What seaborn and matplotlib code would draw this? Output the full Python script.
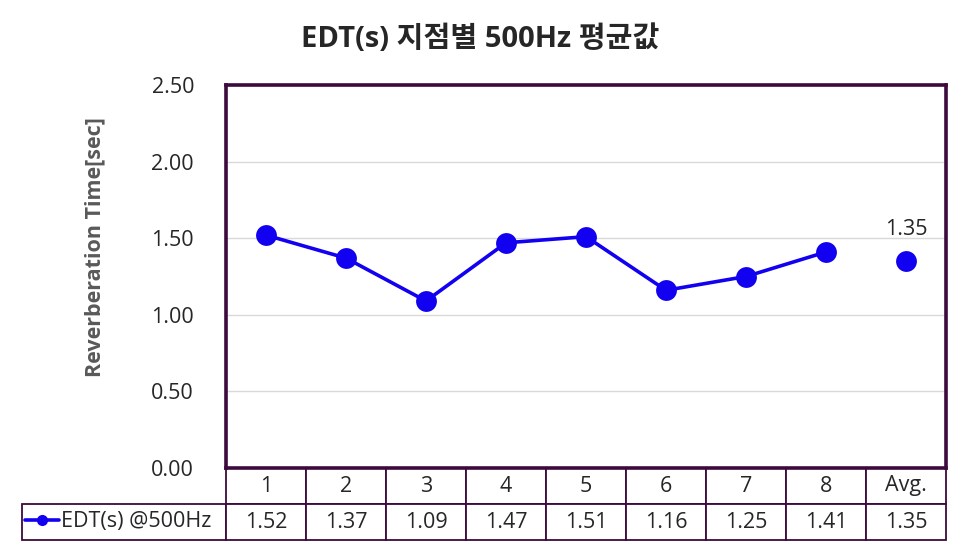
import matplotlib
matplotlib.use('Agg')
import matplotlib.pyplot as plt
import seaborn as sns
import pandas as pd

sns.set_style('white')
plt.rcParams['font.family'] = ['Open Sans', 'Noto Sans CJK KR', 'DejaVu Sans']

# data
points = ['1', '2', '3', '4', '5', '6', '7', '8']
edt = [1.52, 1.37, 1.09, 1.47, 1.51, 1.16, 1.25, 1.41]
avg_label = 'Avg.'
avg_value = 1.35
series_name = 'EDT(s) @500Hz'
title = 'EDT(s) 지점별 500Hz 평균값'
ylabel = 'Reverberation Time[sec]'
yticks = [0.0, 0.5, 1.0, 1.5, 2.0, 2.5]

blue = '#1200f0'
frame = '#3d0a3d'
fs = 15.5

categories = points + [avg_label]
df = pd.DataFrame({'x': range(len(points)), 'edt': edt})

fig = plt.figure(figsize=(9.61, 5.46), dpi=100)
ax = fig.add_axes([226 / 961, 78 / 546, 720 / 961, 383 / 546])

sns.lineplot(data=df, x='x', y='edt', ax=ax, color=blue, lw=2.6,
             marker='o', markersize=15, markeredgewidth=0, label=series_name)
ax.plot([len(points)], [avg_value], 'o', color=blue, markersize=15,
        markeredgewidth=0)
ax.annotate(f'{avg_value:.2f}', (len(points), avg_value), xytext=(0, 15),
            textcoords='offset points', ha='center', va='bottom', fontsize=fs)

ax.set_xlim(-0.5, len(categories) - 0.5)
ax.set_ylim(0, 2.5)
ax.set_yticks(yticks)
ax.set_yticklabels([f'{v:.2f}' for v in yticks], fontsize=fs)
ax.tick_params(axis='y', length=0, pad=23)
ax.set_xticks([])
ax.set_xlabel('')
ax.set_ylabel(ylabel, fontsize=15.5, fontweight='bold', color='#595959')
ax.yaxis.set_label_coords(-0.168, 0.577)
ax.grid(axis='y', color='#d9d9d9', lw=1)
ax.set_axisbelow(True)
for s in ax.spines.values():
    s.set_color(frame)
    s.set_linewidth(2.6)

fig.suptitle(title, fontsize=21, fontweight='bold', y=0.927, va='center')

# data table under the plot
label_w = 204 / 720
cell_text = [[''] + categories, [''] + [f'{v:.2f}' for v in edt + [avg_value]]]
col_w = [label_w] + [1 / len(categories)] * len(categories)
tab = ax.table(cellText=cell_text, colWidths=col_w, cellLoc='center',
               bbox=[-label_w, -72 / 383, 1 + label_w, 72 / 383])
tab.auto_set_font_size(False)
tab.set_fontsize(fs)
for (r, c), cell in tab.get_celld().items():
    cell.set_edgecolor(frame)
    cell.set_linewidth(1.3)
    if r == 0 and c == 0:
        cell.visible_edges = ''

leg = ax.legend(loc='center left', bbox_to_anchor=(-label_w + 0.004, -54 / 383),
                frameon=False, fontsize=fs, handlelength=1.6, handletextpad=0.1,
                borderaxespad=0, borderpad=0)
for h in leg.legend_handles:
    h.set_markersize(8)

fig.savefig('out.png', dpi=100)
